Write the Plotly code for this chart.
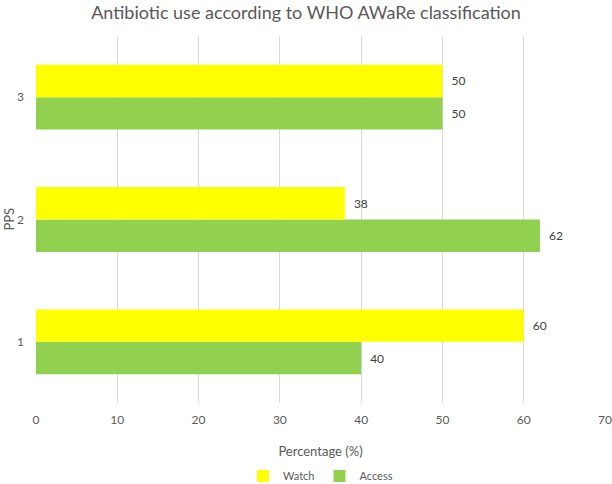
import plotly.graph_objects as go

categories = ["1", "2", "3"]
access = [40, 62, 50]
watch = [60, 38, 50]
x_ticks = [0, 10, 20, 30, 40, 50, 60, 70]

FONT = "Lato"
TXT = "#595959"
PAD = "\u2002"

fig = go.Figure()
fig.add_trace(go.Bar(
    y=categories, x=access, name="Access", orientation="h",
    marker=dict(color="#92D050", line=dict(width=0)),
    text=[PAD + str(v) for v in access], textposition="outside",
    textfont=dict(family=FONT, size=12, color="#404040"),
    cliponaxis=False,
))
fig.add_trace(go.Bar(
    y=categories, x=watch, name="Watch", orientation="h",
    marker=dict(color="#FFFF00", line=dict(width=0)),
    text=[PAD + str(v) for v in watch], textposition="outside",
    textfont=dict(family=FONT, size=12, color="#404040"),
    cliponaxis=False,
))

fig.update_layout(
    width=612, height=484,
    paper_bgcolor="white", plot_bgcolor="white",
    margin=dict(l=36, r=7, t=36, b=81),
    barmode="group", bargap=0.47, bargroupgap=0,
    font=dict(family=FONT, color=TXT, size=12),
    title=dict(text="Antibiotic use according to WHO AWaRe classification",
               x=0.5, xanchor="center", yref="container", y=0.974, yanchor="middle",
               font=dict(family=FONT, size=18, color=TXT)),
    xaxis=dict(range=[0, 70], tickvals=x_ticks, showgrid=True,
               gridcolor="#D9D9D9", gridwidth=1, zeroline=False,
               showline=False, ticks="", ticklabelstandoff=8,
               tickfont=dict(family=FONT, size=12, color=TXT),
               title=dict(text="Percentage (%)", standoff=20,
                          font=dict(family=FONT, size=13, color=TXT)),
               automargin=False),
    yaxis=dict(type="category", range=[-0.5, 2.5], showgrid=False,
               zeroline=False, showline=False, ticks="",
               ticklabelstandoff=11,
               tickfont=dict(family=FONT, size=12, color=TXT),
               automargin=False),
    annotations=[dict(text="PPS", textangle=-90, xref="paper", yref="paper",
                      x=0, y=0.5, xanchor="center", yanchor="middle",
                      xshift=-28, showarrow=False,
                      font=dict(family=FONT, size=13, color=TXT))],
    legend=dict(orientation="h", x=0.5, xanchor="center",
                yref="container", y=0.0165, yanchor="middle",
                traceorder="reversed",
                font=dict(family=FONT, size=11, color=TXT),
                itemwidth=30),
    showlegend=True,
)

fig.write_html("out.html", config={"displayModeBar": False},
               post_script="document.body.style.margin='0';")
